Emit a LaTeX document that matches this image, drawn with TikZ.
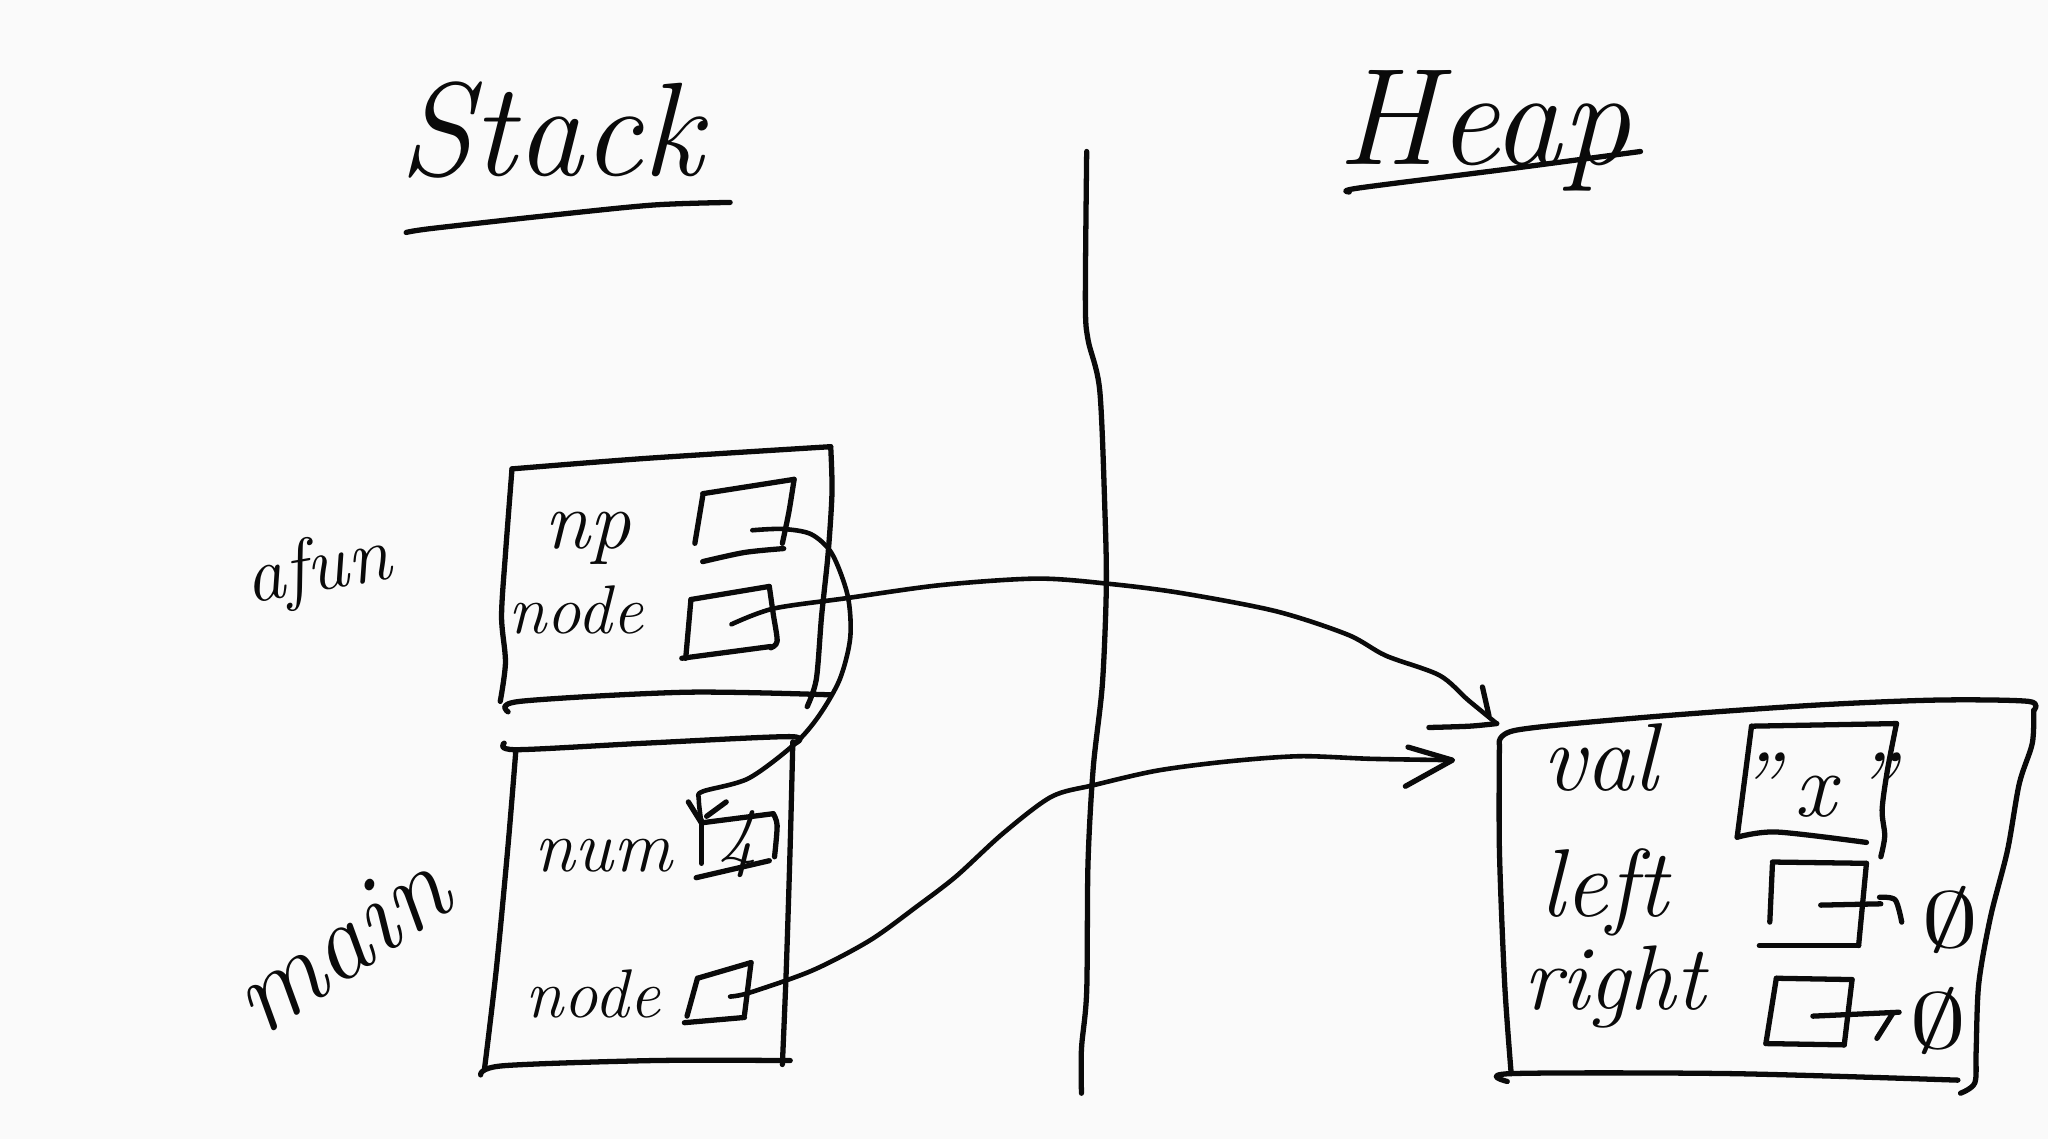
\documentclass[tikz,border=0pt]{standalone}
\usepackage{fontspec}
\usetikzlibrary{calc}
\definecolor{paper}{RGB}{250,250,250}
\definecolor{ink}{RGB}{10,10,10}
\tikzset{
  ink/.style={draw=ink, line width=1.15pt, line cap=round, line join=round},
  inkthin/.style={draw=ink, line width=1pt, line cap=round, line join=round},
  lbl/.style={inner sep=0pt, text=ink, font=\itshape},
  nullsym/.style={inner sep=0pt, text=ink, font=\fontsize{17}{17}\selectfont, xscale=1.45},
}
\newcommand{\fs}[1]{\fontsize{#1}{#1}\selectfont}
\begin{document}
\begin{tikzpicture}[x=0.1mm,y=-0.1mm]
\useasboundingbox (0,0) rectangle (1568,872);
\fill[paper] (0,0) rectangle (1568,872);

% ---------- titles ----------
\node[lbl, anchor=base, font=\itshape\fs{29}] (stack) at (422,134) {Stack};
\draw[ink] plot[smooth] coordinates {(311,178) (330,175) (420,165) (500,157) (559,155)};
\node[lbl, anchor=base, font=\itshape\fs{30}] (heap) at (1136,126) {Heap};
\draw[ink] plot[smooth] coordinates {(1033,147) (1040,144) (1150,130) (1256,116)};

% ---------- divider ----------
\draw[ink] plot[smooth] coordinates {(832,116) (831,231) (833,260) (842,299) (846,393) (847,451) (844,524) (837,588) (833,661) (832,759) (828,803) (828,837)};

% ---------- frame labels ----------
\node[lbl, font=\itshape\fs{17}, rotate=10, anchor=base] (afun) at (246,452) {afun};
\node[lbl, font=\itshape\fs{24}, rotate=34] (mainlbl) at (260,722) {main};

% ---------- afun frame ----------
\draw[ink] plot[smooth] coordinates {(392,359) (494,351) (636,342)};
\draw[ink] plot[smooth] coordinates {(636,342) (637,377) (634,424) (629,472) (625,520) (618,541)};
\draw[ink] plot[smooth] coordinates {(392,359) (387,424) (384,472) (387,507) (383,537)};
\draw[ink] plot[smooth] coordinates {(389,545) (398,537) (525,530) (636,532)};

\node[lbl, font=\itshape\fs{18}, anchor=base] (np) at (450,420) {np};
\node[lbl, font=\itshape\fs{15}, anchor=base] (nodeA) at (441,485) {node};

% np box
\draw[ink] (538,378) -- (608,367);
\draw[ink] plot[smooth] coordinates {(608,367) (604,392) (599,416)};
\draw[ink] plot[smooth] coordinates {(538,430) (570,423) (600,420)};
\draw[ink] (538,380) -- (532,416);
\coordinate (npbox) at (576,406);
% node box (afun)
\draw[ink] (529,459) -- (589,449);
\draw[ink] plot[smooth] coordinates {(589,449) (592,470) (595,491) (590,496)};
\draw[ink] (522,504) -- (590,495);
\draw[ink] (529,459) -- (525,504);
\coordinate (nodeAbox) at (560,478);

% ---------- main frame ----------
\draw[ink] plot[smooth] coordinates {(386,569) (395,574) (494,569) (605,564) (607,570)};
\draw[ink] plot[smooth] coordinates {(607,568) (605,647) (602,742) (599,815)};
\draw[ink] plot[smooth] coordinates {(395,574) (389,647) (380,742) (371,818)};
\draw[ink] plot[smooth] coordinates {(368,823) (385,816) (500,812) (605,812)};

\node[lbl, font=\itshape\fs{16}, anchor=base] (num) at (462,667) {num};
\node[lbl, font=\itshape\fs{15}, anchor=base] (nodeM) at (454,779) {node};

% num box
\draw[ink] (537,630) -- (592,623);
\draw[ink] plot[smooth] coordinates {(592,623) (595,632) (593,656)};
\draw[ink] (533,672) -- (589,659);
\draw[ink] (537,628) -- (537,661);
\node[lbl, font=\itshape\fs{17}] (four) at (565,646) {4};
\coordinate (numbox) at (537,630);
% node box (main)
\draw[ink] (534,749) -- (575,737);
\draw[ink] (575,737) -- (570,777);
\draw[ink] (524,783) -- (570,779);
\draw[ink] (534,749) -- (526,778);
\coordinate (nodeMbox) at (559,763);

% ---------- heap object ----------
\draw[ink] plot[smooth] coordinates {(1148,570) (1161,559) (1262,549) (1388,540) (1483,536) (1553,537) (1557,544)};
\draw[ink] plot[smooth] coordinates {(1557,544) (1556,569) (1546,600) (1537,651) (1524,702) (1515,753) (1513,804) (1512,829) (1501,837)};
\draw[ink] plot[smooth] coordinates {(1154,828) (1157,822) (1325,822) (1499,827)};
\draw[ink] plot[smooth] coordinates {(1148,570) (1148,651) (1152,753) (1157,822)};
\coordinate (heapA) at (1146,554);
\coordinate (heapB) at (1112,582);

\node[lbl, font=\itshape\fs{21}, anchor=base] (val) at (1225,605) {val};
\node[lbl, font=\itshape\fs{21}, anchor=base] (left) at (1228,702) {left};
\node[lbl, font=\itshape\fs{20}, anchor=base] (right) at (1236,773) {right};

% val box
\draw[ink] (1341,556) -- (1452,554);
\draw[ink] plot[smooth] coordinates {(1452,554) (1445,590) (1441,620) (1443,640) (1440,656)};
\draw[ink] plot[smooth] coordinates {(1330,641) (1360,637) (1429,645)};
\draw[ink] (1341,556) -- (1330,641);
\node[lbl, font=\itshape\fs{20}] (xval) at (1390,601) {\symbol{"22}\,x\,\symbol{"22}};

% left box
\draw[ink] (1357,660) -- (1429,661);
\draw[ink] (1429,661) -- (1423,724);
\draw[ink] (1347,724) -- (1423,724);
\draw[ink] (1357,662) -- (1355,706);
\coordinate (leftbox) at (1394,693);
\node[nullsym] (nullL) at (1493,704) {$\emptyset$};
\coordinate (nullLw) at (1440,692);
% right box
\draw[ink] (1360,749) -- (1418,750);
\draw[ink] (1418,750) -- (1412,800);
\draw[ink] (1352,799) -- (1412,800);
\draw[ink] (1360,749) -- (1352,799);
\coordinate (rightbox) at (1388,778);
\node[nullsym] (nullR) at (1484,782) {$\emptyset$};
\coordinate (nullRw) at (1454,775);

% ---------- pointers ----------
% np -> num
\draw[inkthin] plot[smooth] coordinates {(npbox) (599,405) (621,409) (637,424) (649,456) (651,488) (643,520) (627,548) (608,570) (573,596) (538,606) (535,612) (numbox)};
\draw[ink] (527,614) -- (numbox);
\draw[ink] (556,614) -- (541,625);

% node(afun) -> heap
\draw[inkthin] plot[smooth] coordinates {(nodeAbox) (592,466) (648,458) (720,448) (794,443) (849,447) (904,454) (977,468) (1032,486) (1061,502) (1102,517) (1124,536) (heapA)};
\draw[ink] (1135,526) -- (1140,548);
\draw[ink] plot[smooth] coordinates {(1094,557) (1125,556) (heapA)};

% node(main) -> heap
\draw[inkthin] plot[smooth] coordinates {(nodeMbox) (574,760) (622,743) (666,720) (702,694) (732,671) (768,638) (805,610) (838,601) (886,590) (940,583) (995,579) (1050,581) (heapB)};
\draw[ink] (1078,572) -- (heapB) -- (1076,602);

% left -> null
\draw[ink] (leftbox) -- (nullLw);
\draw[ink] plot[smooth] coordinates {(1439,687) (1451,689) (1456,706)};
% right -> null
\draw[ink] (rightbox) -- (nullRw);
\draw[ink] (1437,795) -- (1449,776);
\end{tikzpicture}
\end{document}
